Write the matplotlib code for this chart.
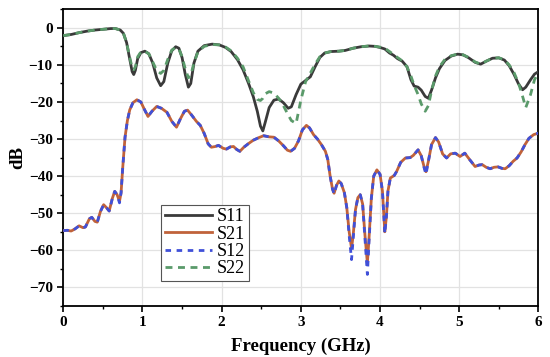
import numpy as np
import matplotlib.pyplot as plt
from matplotlib.ticker import MultipleLocator

# Datos (frecuencia en GHz, magnitud en dB)
freq_refl = [0.00, 0.10, 0.20, 0.30, 0.40, 0.50, 0.60, 0.66, 0.72, 0.76,
             0.80, 0.84, 0.87, 0.89, 0.91, 0.94, 0.98, 1.03, 1.08, 1.13,
             1.18, 1.23, 1.27, 1.32, 1.37, 1.42, 1.46, 1.50, 1.54, 1.58,
             1.61, 1.65, 1.70, 1.78, 1.88, 1.97, 2.05, 2.12, 2.20, 2.27,
             2.34, 2.40, 2.45, 2.49, 2.52, 2.55, 2.60, 2.66, 2.72, 2.78,
             2.84, 2.88, 2.94, 3.00, 3.06, 3.12, 3.18, 3.24, 3.30, 3.38,
             3.48, 3.56, 3.66, 3.76, 3.86, 3.94, 4.00, 4.06, 4.12, 4.17,
             4.22, 4.28, 4.34, 4.39, 4.43, 4.48, 4.52, 4.57, 4.61, 4.65,
             4.70, 4.75, 4.82, 4.90, 4.98, 5.05, 5.12, 5.20, 5.27, 5.34,
             5.42, 5.50, 5.57, 5.63, 5.69, 5.75, 5.80, 5.84, 5.90, 5.95,
             6.00]

s11 = [-2.1, -1.8, -1.3, -0.9, -0.6, -0.4, -0.2, -0.2, -0.6, -1.5,
       -4.0, -8.5, -11.8, -12.6, -11.5, -8.3, -6.7, -6.3, -7.0, -9.5,
       -13.5, -15.6, -14.5, -9.5, -6.2, -5.1, -5.5, -8.0, -12.5, -16.0,
       -15.0, -9.5, -6.3, -4.8, -4.4, -4.6, -5.3, -6.4, -8.6, -11.3,
       -15.0, -18.6, -22.5, -26.5, -27.8, -25.5, -21.5, -19.5, -19.2, -20.2,
       -21.7, -21.3, -18.0, -15.2, -14.2, -13.2, -10.5, -8.0, -6.8, -6.4,
       -6.3, -6.1, -5.5, -5.1, -4.9, -5.0, -5.3, -5.7, -6.8, -7.4,
       -8.3, -9.0, -10.5, -14.0, -15.7, -16.0, -16.8, -18.5, -19.0, -16.8,
       -13.5, -11.0, -8.8, -7.6, -7.1, -7.3, -8.1, -9.3, -9.8, -9.0,
       -8.2, -8.1, -8.7, -10.2, -12.5, -15.2, -16.7, -16.0, -14.0, -12.5,
       -11.8]

s22 = [-2.1, -1.8, -1.3, -0.9, -0.6, -0.4, -0.2, -0.2, -0.6, -1.5,
       -4.0, -8.0, -10.8, -11.3, -10.5, -7.8, -6.5, -6.3, -7.0, -9.2,
       -11.5, -12.3, -11.5, -8.5, -6.0, -5.3, -5.7, -7.8, -11.0, -13.5,
       -12.8, -9.5, -6.5, -5.0, -4.5, -4.6, -5.2, -6.2, -8.2, -10.5,
       -14.3, -17.5, -19.3, -19.6, -19.0, -17.8, -17.2, -17.6, -19.0, -21.0,
       -23.5, -25.0, -25.8, -19.5, -14.5, -12.2, -9.8, -7.8, -6.8, -6.4,
       -6.3, -6.1, -5.5, -5.1, -4.9, -5.0, -5.2, -5.5, -6.4, -7.2,
       -8.0, -8.9, -10.5, -13.0, -15.5, -18.0, -20.5, -22.5, -21.0, -17.0,
       -13.0, -10.5, -8.5, -7.5, -7.1, -7.3, -8.0, -9.2, -9.8, -9.0,
       -8.2, -8.1, -8.6, -10.0, -12.0, -15.0, -18.5, -21.5, -18.0, -14.0,
       -12.0]

freq_trans = [0.00, 0.05, 0.10, 0.15, 0.20, 0.25, 0.28, 0.33, 0.36, 0.40,
              0.43, 0.47, 0.51, 0.55, 0.58, 0.62, 0.65, 0.68, 0.71, 0.73,
              0.75, 0.78, 0.81, 0.84, 0.88, 0.93, 0.98, 1.02, 1.07, 1.12,
              1.18, 1.24, 1.31, 1.37, 1.43, 1.48, 1.53, 1.57, 1.62, 1.68,
              1.73, 1.78, 1.83, 1.87, 1.92, 1.96, 2.02, 2.06, 2.11, 2.15,
              2.19, 2.23, 2.28, 2.34, 2.40, 2.47, 2.53, 2.60, 2.66, 2.72,
              2.78, 2.83, 2.87, 2.92, 2.97, 3.02, 3.07, 3.11, 3.16, 3.21,
              3.26, 3.31, 3.34, 3.37, 3.40, 3.42, 3.45, 3.48, 3.51, 3.55,
              3.58, 3.61, 3.64, 3.66, 3.69, 3.72, 3.75, 3.78, 3.81, 3.84,
              3.86, 3.89, 3.92, 3.96, 4.00, 4.03, 4.06, 4.08, 4.10, 4.13,
              4.18, 4.21, 4.26, 4.32, 4.38, 4.42, 4.48, 4.52, 4.56, 4.58,
              4.61, 4.65, 4.70, 4.74, 4.79, 4.84, 4.89, 4.95, 5.01, 5.07,
              5.13, 5.20, 5.25, 5.29, 5.34, 5.39, 5.44, 5.49, 5.54, 5.58,
              5.63, 5.68, 5.73, 5.78, 5.83, 5.88, 5.94, 6.00]

s21 = [-54.7, -54.6, -54.8, -54.2, -53.4, -53.9, -53.7, -51.5, -51.1, -52.2,
       -52.4, -49.5, -47.7, -48.6, -49.4, -46.0, -44.1, -45.0, -46.8, -44.5,
       -38.0, -29.5, -25.0, -22.1, -20.2, -19.4, -20.0, -21.8, -23.9, -22.5,
       -21.2, -21.7, -22.8, -25.2, -26.8, -24.5, -22.5, -22.2, -23.5, -25.2,
       -26.3, -28.5, -31.3, -32.2, -32.0, -31.7, -32.5, -32.7, -32.1, -32.0,
       -32.8, -33.3, -32.2, -31.2, -30.3, -29.6, -29.1, -29.4, -29.5, -30.5,
       -31.8, -33.0, -33.3, -32.5, -30.5, -27.5, -26.3, -27.0, -28.8, -30.0,
       -31.5, -33.3, -35.5, -40.0, -43.5, -44.6, -42.5, -41.3, -42.0, -44.5,
       -48.5, -55.0, -59.5, -56.0, -49.0, -45.8, -45.0, -47.5, -56.0, -63.5,
       -57.0, -46.0, -40.0, -38.3, -39.5, -44.0, -55.0, -51.0, -44.0, -40.5,
       -39.8, -38.7, -36.3, -35.1, -35.0, -34.4, -32.9, -34.5, -37.8, -38.8,
       -36.0, -31.5, -29.6, -30.8, -34.0, -35.1, -34.0, -33.8, -34.7, -33.8,
       -35.5, -37.4, -37.0, -36.9, -37.6, -38.0, -37.6, -37.5, -37.9, -38.0,
       -37.2, -36.0, -35.1, -33.5, -31.5, -29.8, -28.8, -28.4]

s12 = [-54.7, -54.6, -54.8, -54.2, -53.4, -53.9, -53.7, -51.5, -51.1, -52.2,
       -52.4, -49.5, -47.7, -48.6, -49.4, -46.0, -44.1, -45.0, -47.2, -44.5,
       -38.0, -29.5, -25.0, -22.1, -20.2, -19.4, -20.0, -21.8, -23.9, -22.5,
       -21.2, -21.7, -22.8, -25.2, -26.8, -24.5, -22.5, -22.2, -23.5, -25.2,
       -26.3, -28.5, -31.3, -32.2, -32.0, -31.7, -32.5, -32.7, -32.1, -32.0,
       -32.8, -33.3, -32.2, -31.2, -30.3, -29.6, -29.1, -29.4, -29.5, -30.5,
       -31.8, -33.0, -33.3, -32.5, -30.5, -27.5, -26.3, -27.0, -28.8, -30.0,
       -31.5, -33.3, -35.5, -40.0, -43.5, -44.8, -42.5, -41.3, -42.0, -44.5,
       -48.5, -56.0, -62.5, -57.0, -49.0, -45.8, -45.0, -47.5, -57.0, -66.5,
       -58.0, -46.0, -40.0, -38.3, -39.5, -44.0, -55.5, -51.0, -44.0, -40.5,
       -39.8, -38.7, -36.3, -35.1, -35.0, -34.4, -32.9, -34.5, -38.0, -39.5,
       -36.0, -31.5, -29.6, -30.8, -34.0, -35.1, -34.0, -33.8, -34.7, -33.8,
       -35.5, -37.4, -37.0, -36.9, -37.6, -38.0, -37.6, -37.5, -37.9, -38.0,
       -37.2, -36.0, -35.1, -33.5, -31.5, -29.8, -28.8, -28.4]

plt.rcParams["font.family"] = ["Liberation Serif", "DejaVu Serif"]

fig = plt.figure(figsize=(5.5, 3.57), dpi=100)
ax = fig.add_axes([0.115, 0.143, 0.864, 0.831])

ax.plot(freq_refl, s11, color="#3a3a3a", lw=2.0, label="S11", zorder=3)
ax.plot(freq_trans, s21, color="#c0623a", lw=2.0, label="S21", zorder=3)
ax.plot(freq_trans, s12, color="#4050d8", lw=2.0, ls=(0, (2.0, 2.0)), label="S12", zorder=4)
ax.plot(freq_refl, s22, color="#5a9a6a", lw=2.0, ls=(0, (2.5, 2.0)), label="S22", zorder=4)

ax.set_xlim(0, 6)
ax.set_ylim(-75, 5)
ax.xaxis.set_major_locator(MultipleLocator(1))
ax.xaxis.set_minor_locator(MultipleLocator(0.5))
ax.yaxis.set_major_locator(MultipleLocator(10))
ax.yaxis.set_minor_locator(MultipleLocator(5))
ax.grid(True, which="major", color="#e2e2e2", lw=0.9, zorder=0)

ax.tick_params(which="major", direction="out", length=4, width=1.2, labelsize=11)
ax.tick_params(which="minor", direction="out", length=2.5, width=1.0)
for lab in ax.get_xticklabels() + ax.get_yticklabels():
    lab.set_fontweight("bold")
for sp in ax.spines.values():
    sp.set_linewidth(1.3)

ax.set_xlabel("Frequency (GHz)", fontsize=13.5, fontweight="bold", labelpad=6)
ax.set_ylabel("dB", fontsize=13.5, fontweight="bold", labelpad=2)

leg = ax.legend(loc="lower left", bbox_to_anchor=(0.206, 0.084), fontsize=13,
                handlelength=2.6, handletextpad=0.3, labelspacing=0.02,
                borderpad=0.2, borderaxespad=0, fancybox=False,
                framealpha=1, edgecolor="#555555")
leg.get_frame().set_linewidth(0.8)

fig.savefig("out.png", dpi=100)
